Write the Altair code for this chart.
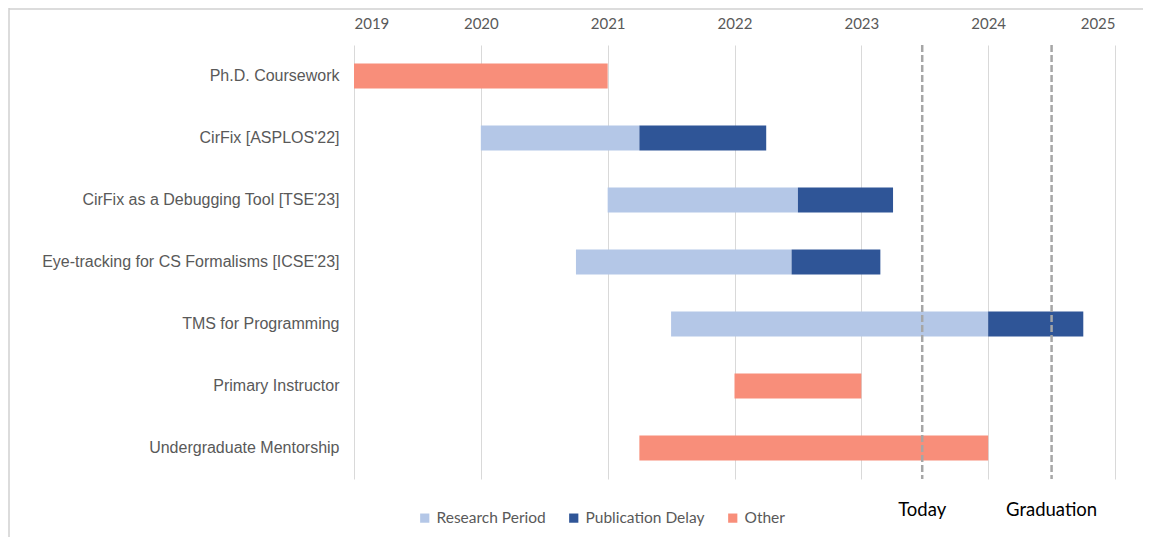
import altair as alt
import pandas as pd

tasks = [
    "Ph.D. Coursework",
    "CirFix [ASPLOS'22]",
    "CirFix as a Debugging Tool [TSE'23]",
    "Eye-tracking for CS Formalisms [ICSE'23]",
    "TMS for Programming",
    "Primary Instructor",
    "Undergraduate Mentorship",
]

seg_task = [
    "Ph.D. Coursework",
    "CirFix [ASPLOS'22]", "CirFix [ASPLOS'22]",
    "CirFix as a Debugging Tool [TSE'23]", "CirFix as a Debugging Tool [TSE'23]",
    "Eye-tracking for CS Formalisms [ICSE'23]", "Eye-tracking for CS Formalisms [ICSE'23]",
    "TMS for Programming", "TMS for Programming",
    "Primary Instructor",
    "Undergraduate Mentorship",
]
seg_type = [
    "Other",
    "Research Period", "Publication Delay",
    "Research Period", "Publication Delay",
    "Research Period", "Publication Delay",
    "Research Period", "Publication Delay",
    "Other",
    "Other",
]
seg_start = [2019.0, 2020.0, 2021.25, 2021.0, 2022.5, 2020.75, 2022.45, 2021.5, 2024.0, 2022.0, 2021.25]
seg_end = [2021.0, 2021.25, 2022.25, 2022.5, 2023.25, 2022.45, 2023.15, 2024.0, 2024.75, 2023.0, 2024.0]

type_names = ["Research Period", "Publication Delay", "Other"]
type_colors = ["#B4C7E7", "#2F5597", "#F88E7A"]

year_ticks = [2019, 2020, 2021, 2022, 2023, 2024, 2025]

marker_labels = ["Today", "Graduation"]
marker_x = [2023.48, 2024.5]

seg_df = pd.DataFrame({"task": seg_task, "type": seg_type, "start": seg_start, "end": seg_end})
mark_df = pd.DataFrame({"label": marker_labels, "x": marker_x})

W, H = 761, 434

xscale = alt.Scale(domain=[2019, 2025], nice=False, zero=False)
yscale = alt.Scale(domain=tasks, paddingInner=0.6, paddingOuter=0.3)

bars = alt.Chart(seg_df).mark_bar(cornerRadius=0).encode(
    x=alt.X("start:Q", scale=xscale,
            axis=alt.Axis(orient="top", values=year_ticks, format="d", title=None,
                          domain=False, ticks=False, grid=True, gridColor="#D9D9D9",
                          gridWidth=1, labelFont="Lato", labelFontSize=15,
                          labelColor="#595959", labelPadding=14)),
    x2="end:Q",
    y=alt.Y("task:N", scale=yscale, sort=tasks,
            axis=alt.Axis(title=None, domain=False, ticks=False, grid=False,
                          labelFont="Liberation Sans", labelFontSize=16,
                          labelColor="#595959", labelPadding=15, labelLimit=500)),
    color=alt.Color("type:N",
                    scale=alt.Scale(domain=type_names, range=type_colors),
                    legend=alt.Legend(title=None, orient="none", direction="horizontal",
                                      legendX=63, legendY=465, symbolType="square",
                                      symbolSize=85, symbolStrokeWidth=0,
                                      labelFont="Lato", labelFontSize=15.5,
                                      labelColor="#595959", labelOffset=4,
                                      columnPadding=20)),
)

rules = alt.Chart(mark_df).mark_rule(color="#A6A6A6", strokeWidth=2.5, strokeDash=[7, 3]).encode(
    x=alt.X("x:Q", scale=xscale)
)

labels = alt.Chart(mark_df).mark_text(font="Lato", fontSize=18.5, color="black",
                                      baseline="middle", align="center").encode(
    x=alt.X("x:Q", scale=xscale),
    y=alt.value(465),
    text="label:N",
)

frame_left = alt.Chart(alt.Data(values=[{"a": 1}])).mark_rule(color="#D0D0D0", strokeWidth=1.5).encode(
    x=alt.value(-345), y=alt.value(-37), y2=alt.value(492)
)
frame_top = alt.Chart(alt.Data(values=[{"a": 1}])).mark_rule(color="#D0D0D0", strokeWidth=1.5).encode(
    x=alt.value(-345), x2=alt.value(789), y=alt.value(-36)
)

chart = alt.layer(bars, rules, labels, frame_left, frame_top).properties(
    width=W, height=H,
    autosize=alt.AutoSizeParams(type="none"),
    padding={"left": 346, "top": 37, "right": 28, "bottom": 58},
).configure(background="white").configure_view(strokeWidth=0, stroke="transparent")

chart.save("out.html", embed_options={"renderer": "svg", "actions": False})
